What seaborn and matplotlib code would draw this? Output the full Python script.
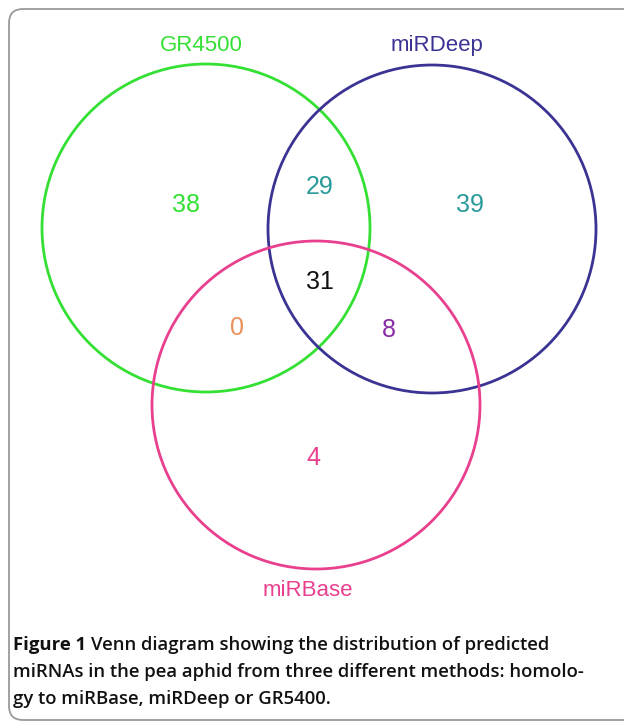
import numpy as np
import seaborn as sns
import matplotlib.pyplot as plt
from matplotlib.patches import Circle, FancyBboxPatch

# ---------------------------------------------------------------- data
set_names = ["GR4500", "miRDeep", "miRBase"]
set_colors = ["#33e033", "#3a3394", "#e8408e"]

region_labels = ["GR4500 only", "GR4500&miRDeep", "miRDeep only", "all three",
                 "GR4500&miRBase", "miRDeep&miRBase", "miRBase only"]
region_counts = [38, 29, 39, 31, 0, 8, 4]
region_colors = ["#33e033", "#2a9a9a", "#2a9a9a", "#111111", "#e8905a", "#8a2ba6", "#e8408e"]

caption_head = "Figure 1"
caption_lines = ["Venn diagram showing the distribution of predicted",
                 "miRNAs in the pea aphid from three different methods: homolo-",
                 "gy to miRBase, miRDeep or GR5400."]

# ---------------------------------------------------------------- layout (pixels)
W, H = 624, 725
centers = [(206, 228), (432, 229), (316, 405)]
radius = 164
name_pos = [(201, 45), (437, 45), (308, 590)]
region_pos = [(186, 205), (320, 187), (470, 205), (320, 282), (237, 328), (389, 330), (313, 458)]

sns.set_style("white")
plt.rcParams['font.family'] = ['Liberation Sans', 'DejaVu Sans']

fig = plt.figure(figsize=(W / 100, H / 100), dpi=100)
ax = fig.add_axes([0, 0, 1, 1])
ax.set_xlim(0, W)
ax.set_ylim(H, 0)
ax.set_axis_off()

# frame
frame = FancyBboxPatch((9, 9), 660, 711, boxstyle="round,pad=0,rounding_size=14",
                       fc="white", ec="#9a9a9a", lw=1.3)
ax.add_patch(frame)

# circles
for (cx, cy), col in zip(centers, set_colors):
    ax.add_patch(Circle((cx, cy), radius, fill=False, ec=col, lw=2))

# set names
for (x, y), name, col in zip(name_pos, set_names, set_colors):
    ax.text(x, y, name, color=col, fontsize=16, ha="center", va="center")

# counts
for (x, y), n, col in zip(region_pos, region_counts, region_colors):
    ax.text(x, y, str(n), color=col, fontsize=18, ha="center", va="center")

# caption - size it so the second line spans ~572 px like the original
cap_font = ['Open Sans', 'DejaVu Sans']
renderer = fig.canvas.get_renderer()
probe = ax.text(0, 0, caption_lines[1], fontsize=12, fontweight="semibold", family=cap_font)
w = probe.get_window_extent(renderer).width
probe.remove()
fs = 12 * 572 / w

head = ax.text(13, 645, caption_head, fontsize=fs, fontweight="bold", family=cap_font,
               ha="left", va="center", color="#111111")
hw = head.get_window_extent(renderer).width
ax.text(13 + hw + 5, 645, caption_lines[0], fontsize=fs, fontweight="semibold",
        family=cap_font, ha="left", va="center", color="#111111")
for i, line in enumerate(caption_lines[1:]):
    ax.text(13, 672 + 27 * i, line, fontsize=fs, fontweight="semibold",
            family=cap_font, ha="left", va="center", color="#111111")

plt.savefig("out.png", dpi=100)
